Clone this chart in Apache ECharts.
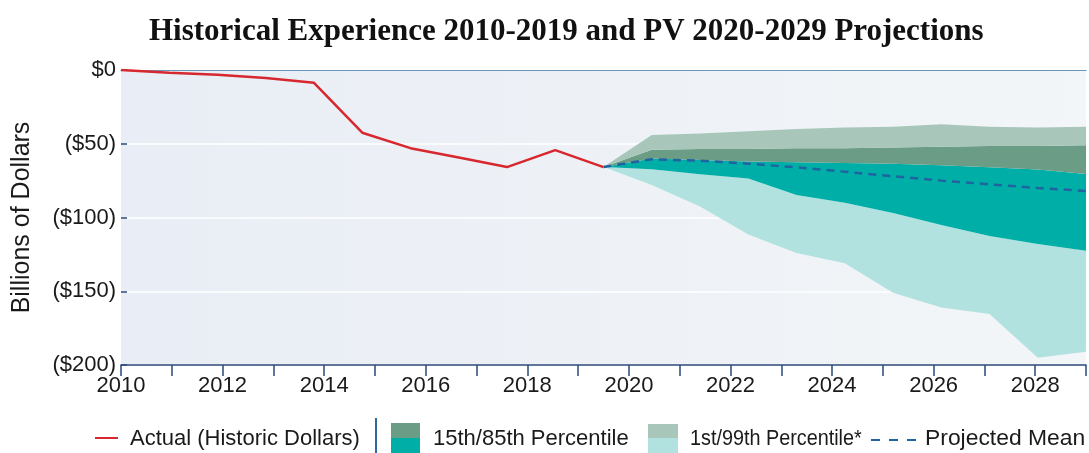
<!DOCTYPE html>
<html>
<head>
<meta charset="utf-8">
<script src="https://cdn.jsdelivr.net/npm/echarts@6/dist/echarts.min.js"></script>
<style>
  html, body { margin: 0; padding: 0; background: #fff; }
  #chart { width: 1089px; height: 453px; }
</style>
</head>
<body>
<div id="chart"></div>
<script>
// valuation periods (fiscal year ends), 11 historic + 10 projected
const periods = ['2009', '2010', '2011', '2012', '2013', '2014', '2015', '2016', '2017', '2018', '2019',
  '2020', '2021', '2022', '2023', '2024', '2025', '2026', '2027', '2028', '2029'];

// actual (historic dollars), billions
const actual = [0, -1.8, -3.3, -5.5, -8.7, -42.5, -53, -59.3, -65.8, -54.3, -65.8];

// projections start from the last actual point
const projMean = [-65.8, -60.5, -61.5, -63.5, -66, -69, -72, -75, -77.5, -80, -82];
const pct99 = [-65.8, -44, -43, -41.5, -40, -39, -38.5, -36.8, -38.5, -39, -38.5];
const pct85 = [-65.8, -54, -53.5, -53.5, -53, -53, -52.5, -52, -51.5, -51.5, -51];
const pct50 = [-65.8, -60, -61, -62, -62.5, -63, -63.5, -64.5, -66, -67.5, -70.5];
const pct15 = [-65.8, -67.3, -70.7, -73.5, -84.7, -90, -97, -105, -112.5, -118, -122.5];
const pct1 = [-65.8, -78, -92.5, -111.5, -124, -131, -151, -161, -165.5, -195, -191];

const yearTicks = [2010, 2029];

const FONT = '"Liberation Sans", Arial, sans-serif';
const C_RED = '#d7282f';
const C_LIGHTGREEN = '#a8c7ba';
const C_DARKGREEN = '#6b9c86';
const C_TEAL = '#00aea8';
const C_LIGHTTEAL = '#b2e2df';
const C_MEAN = '#1f64a0';
const C_AXIS = '#2c4a78';

const histLen = actual.length;
const pad = n => new Array(n).fill('-');

// full-length series on the period axis
const actualFull = actual.concat(pad(periods.length - histLen));
const lead = pad(histLen - 1);
const meanFull = lead.concat(projMean);
const diff = (a, b) => lead.concat(a.map((v, i) => +(v - b[i]).toFixed(2)));

function band(name, data, color) {
  return {
    name: name,
    type: 'line',
    stack: 'fan',
    stackStrategy: 'all',
    data: data,
    symbol: 'none',
    lineStyle: { width: 0 },
    areaStyle: { color: color, opacity: 1 },
    silent: true,
    z: 1
  };
}

const legendText = (x, text, extra) => Object.assign({
  type: 'text', x: x, y: 439,
  style: { text: text, font: '22px ' + FONT, fill: '#1a1a1a', verticalAlign: 'middle' }
}, extra || {});

const chart = echarts.init(document.getElementById('chart'));

const option = {
  animation: false,
  title: {
    text: 'Historical Experience 2010-2019 and PV 2020-2029 Projections',
    left: 144,
    top: 11,
    textStyle: { fontFamily: '"Liberation Serif", serif', fontWeight: 'bold', fontSize: 31, color: '#111' }
  },
  grid: {
    left: 121, right: 1, top: 70, bottom: 88,
    show: true,
    borderWidth: 0,
    backgroundColor: {
      type: 'linear', x: 0, y: 0, x2: 1, y2: 0,
      colorStops: [{ offset: 0, color: '#e9edf5' }, { offset: 1, color: '#f2f6f8' }]
    }
  },
  xAxis: [
    {
      type: 'category',
      data: periods,
      boundaryGap: false,
      show: false
    },
    {
      type: 'value',
      min: yearTicks[0],
      max: yearTicks[1],
      interval: 1,
      position: 'bottom',
      axisLine: { lineStyle: { color: C_AXIS, width: 1.5 } },
      axisTick: { show: true, length: 11, lineStyle: { color: C_AXIS, width: 1.5 } },
      splitLine: { show: false },
      axisLabel: {
        fontFamily: FONT, fontSize: 22, color: '#1a1a1a', margin: 10,
        formatter: v => (v % 2 === 0 ? String(v) : '')
      }
    },
    {
      type: 'value',
      min: yearTicks[0],
      max: yearTicks[1],
      position: 'top',
      axisLine: { show: true, lineStyle: { color: '#6b96b8', width: 1.2 } },
      axisTick: { show: false },
      axisLabel: { show: false },
      splitLine: { show: false }
    }
  ],
  yAxis: {
    type: 'value',
    min: -200,
    max: 0,
    interval: 50,
    name: 'Billions of Dollars',
    nameLocation: 'middle',
    nameGap: 86,
    nameTextStyle: { fontFamily: FONT, fontSize: 25, color: '#1a1a1a' },
    axisLine: { show: false },
    axisTick: { show: true, inside: true, length: 6, lineStyle: { color: C_AXIS, width: 1.5 } },
    splitLine: { lineStyle: { color: '#ffffff', width: 1.5 } },
    axisLabel: {
      fontFamily: FONT, fontSize: 22, color: '#1a1a1a', margin: 5,
      formatter: v => (v === 0 ? '$0' : '($' + Math.abs(v) + ')')
    }
  },
  series: [
    {
      name: 'base',
      type: 'line',
      stack: 'fan',
      stackStrategy: 'all',
      data: lead.concat(pct1),
      symbol: 'none',
      lineStyle: { width: 0 },
      silent: true
    },
    band('1st Percentile band', diff(pct15, pct1), C_LIGHTTEAL),
    band('15th Percentile band', diff(pct50, pct15), C_TEAL),
    band('85th Percentile band', diff(pct85, pct50), C_DARKGREEN),
    band('99th Percentile band', diff(pct99, pct85), C_LIGHTGREEN),
    {
      name: 'Projected Mean',
      type: 'line',
      data: meanFull,
      symbol: 'none',
      lineStyle: { color: C_MEAN, width: 2.5, type: [8, 6] },
      z: 5
    },
    {
      name: 'Actual (Historic Dollars)',
      type: 'line',
      data: actualFull,
      symbol: 'none',
      lineStyle: { color: C_RED, width: 2.5 },
      z: 6
    }
  ],
  graphic: [
    { type: 'line', shape: { x1: 95, y1: 438, x2: 118, y2: 438 }, style: { stroke: C_RED, lineWidth: 2 } },
    legendText(130, 'Actual (Historic Dollars)'),
    { type: 'line', shape: { x1: 376, y1: 418, x2: 376, y2: 453 }, style: { stroke: '#2e6aa0', lineWidth: 2 } },
    { type: 'rect', shape: { x: 391, y: 423, width: 29, height: 15 }, style: { fill: C_DARKGREEN } },
    { type: 'rect', shape: { x: 391, y: 438, width: 29, height: 15 }, style: { fill: C_TEAL } },
    legendText(433, '15th/85th Percentile'),
    { type: 'rect', shape: { x: 648, y: 424, width: 30, height: 14 }, style: { fill: C_LIGHTGREEN } },
    { type: 'rect', shape: { x: 648, y: 438, width: 30, height: 15 }, style: { fill: C_LIGHTTEAL } },
    legendText(690, '1st/99th Percentile*', { scaleX: 0.9 }),
    { type: 'line', shape: { x1: 871, y1: 440, x2: 916, y2: 440 }, style: { stroke: C_MEAN, lineWidth: 2, lineDash: [9, 9] } },
    legendText(925, 'Projected Mean', { scaleX: 1.04 })
  ]
};

chart.setOption(option);
window.addEventListener('resize', chart.resize);
</script>
</body>
</html>
